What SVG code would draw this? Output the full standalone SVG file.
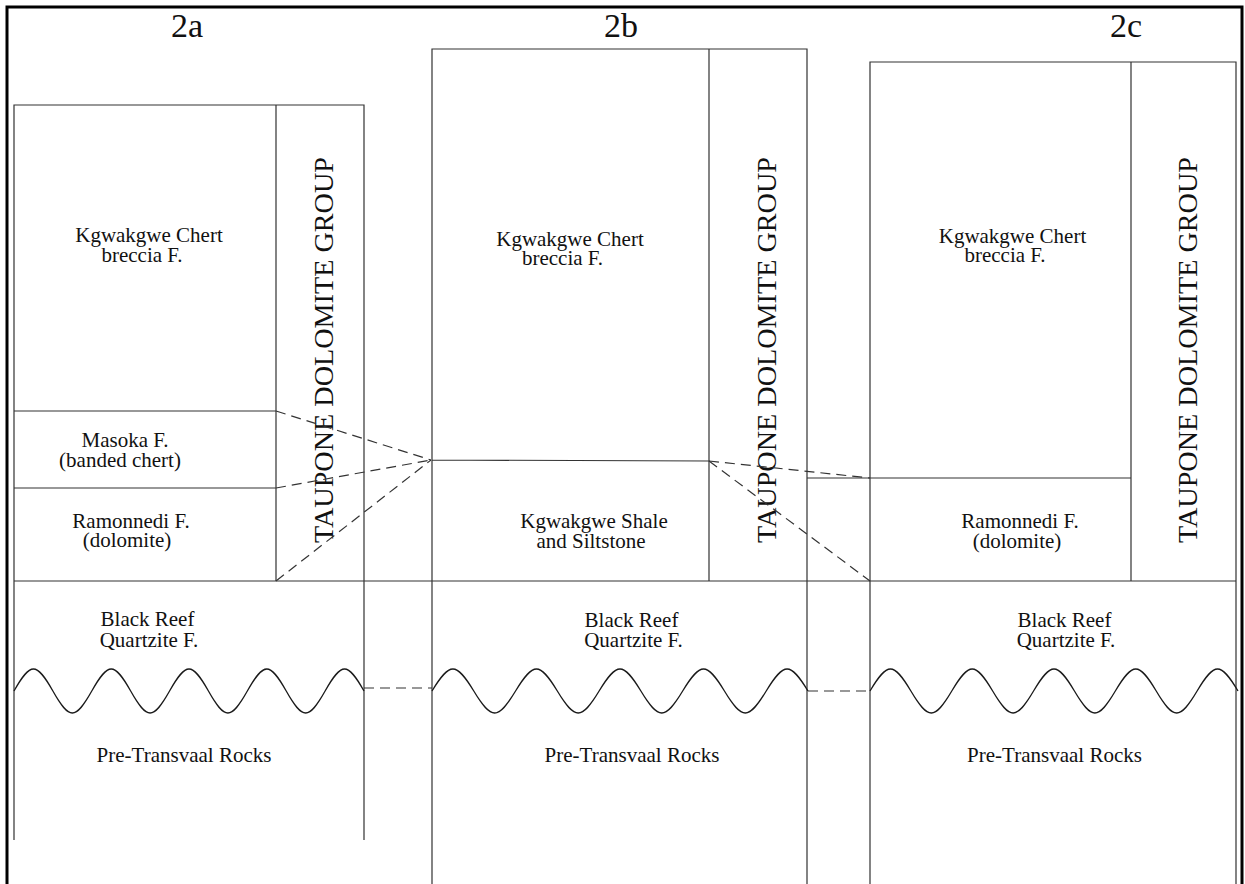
<svg xmlns="http://www.w3.org/2000/svg" width="1245" height="884" viewBox="0 0 1245 884">
<style>
.ln{stroke:#333;stroke-width:1.2;fill:none}
.dash{stroke:#333;stroke-width:1.2;fill:none;stroke-dasharray:10 6}
.wave{stroke:#1a1a1a;stroke-width:1.3;fill:none}
.lbl{font-family:"Liberation Serif","Times New Roman",serif;font-size:21px;fill:#111;text-anchor:middle}
.hd{font-family:"Liberation Serif","Times New Roman",serif;font-size:34px;fill:#111;text-anchor:middle}
.grp{font-family:"Liberation Serif","Times New Roman",serif;font-size:28px;fill:#111}
</style>
<rect width="1245" height="884" fill="#fff"/>
<path d="M7,890 V7 H1242 V890" fill="none" stroke="#000" stroke-width="3"/>
<line class="ln" x1="14" y1="581" x2="1236" y2="581"/>

<g id="col-2a">
<text class="hd" x="187" y="37">2a</text>
<path class="ln" d="M14,840 V105 H364 V840 M276,105 V581 M14,411 H276 M14,488 H276"/>
<text class="grp" transform="translate(333,543) rotate(-90)" textLength="386" lengthAdjust="spacingAndGlyphs">TAUPONE DOLOMITE GROUP</text>
<text class="lbl" x="149" y="242">Kgwakgwe Chert</text>
<text class="lbl" x="142" y="262">breccia F.</text>
<text class="lbl" x="125" y="447">Masoka F.</text>
<text class="lbl" x="120" y="467">(banded chert)</text>
<text class="lbl" x="131" y="528">Ramonnedi F.</text>
<text class="lbl" x="127" y="547">(dolomite)</text>
<text class="lbl" x="147.5" y="626">Black Reef</text>
<text class="lbl" x="149" y="647">Quartzite F.</text>
<path class="wave" d="M14,691 C30.5,661.67 36.38,661.67 52.89,691 C69.39,720.33 75.27,720.33 91.78,691 C108.28,661.67 114.16,661.67 130.67,691 C147.17,720.33 153.05,720.33 169.56,691 C186.06,661.67 191.94,661.67 208.44,691 C224.95,720.33 230.83,720.33 247.33,691 C263.84,661.67 269.72,661.67 286.22,691 C302.73,720.33 308.61,720.33 325.11,691 C341.62,661.67 347.49,661.67 364,691"/>
<text class="lbl" x="184" y="762">Pre-Transvaal Rocks</text>
</g>

<g id="col-2b">
<text class="hd" x="621" y="37">2b</text>
<path class="ln" d="M432,890 V49 H807 V890 M709,49 V581 M432,460 L709,461"/>
<text class="grp" transform="translate(776,543) rotate(-90)" textLength="386" lengthAdjust="spacingAndGlyphs">TAUPONE DOLOMITE GROUP</text>
<text class="lbl" x="570" y="246">Kgwakgwe Chert</text>
<text class="lbl" x="562.5" y="265">breccia F.</text>
<text class="lbl" x="594" y="528">Kgwakgwe Shale</text>
<text class="lbl" x="591" y="548">and Siltstone</text>
<text class="lbl" x="631.5" y="627">Black Reef</text>
<text class="lbl" x="633.5" y="647">Quartzite F.</text>
<path class="wave" d="M432,691 C449.73,661.67 456.05,661.67 473.78,691 C491.51,720.33 497.82,720.33 515.56,691 C533.29,661.67 539.6,661.67 557.33,691 C575.06,720.33 581.38,720.33 599.11,691 C616.84,661.67 623.16,661.67 640.89,691 C658.62,720.33 664.94,720.33 682.67,691 C700.4,661.67 706.71,661.67 724.44,691 C742.17,720.33 748.49,720.33 766.22,691 C783.95,661.67 790.27,661.67 808,691"/>
<text class="lbl" x="632" y="762">Pre-Transvaal Rocks</text>
</g>

<g id="col-2c">
<text class="hd" x="1126" y="37">2c</text>
<path class="ln" d="M870,890 V62 H1236 V890 M1131,62 V581 M807,478 H1131"/>
<text class="grp" transform="translate(1197,543) rotate(-90)" textLength="386" lengthAdjust="spacingAndGlyphs">TAUPONE DOLOMITE GROUP</text>
<text class="lbl" x="1012.5" y="243">Kgwakgwe Chert</text>
<text class="lbl" x="1005" y="262">breccia F.</text>
<text class="lbl" x="1020" y="528">Ramonnedi F.</text>
<text class="lbl" x="1017" y="548">(dolomite)</text>
<text class="lbl" x="1064.5" y="627">Black Reef</text>
<text class="lbl" x="1066" y="647">Quartzite F.</text>
<path class="wave" d="M870,691 C887.35,661.67 893.54,661.67 910.89,691 C928.24,720.33 934.42,720.33 951.78,691 C969.13,661.67 975.31,661.67 992.67,691 C1010.02,720.33 1016.2,720.33 1033.56,691 C1050.91,661.67 1057.09,661.67 1074.44,691 C1091.8,720.33 1097.98,720.33 1115.33,691 C1132.69,661.67 1138.87,661.67 1156.22,691 C1173.58,720.33 1179.76,720.33 1197.11,691 C1214.47,661.67 1220.64,661.67 1238,691"/>
<text class="lbl" x="1054.5" y="762">Pre-Transvaal Rocks</text>
</g>

<g id="connectors">
<line class="dash" x1="276" y1="411" x2="431" y2="460"/>
<line class="dash" x1="276" y1="488" x2="431" y2="460"/>
<line class="dash" x1="276" y1="581" x2="431" y2="460"/>
<line class="dash" x1="709" y1="461" x2="870" y2="478"/>
<line class="dash" x1="709" y1="461" x2="870" y2="581"/>
<line class="dash" x1="364" y1="688" x2="432" y2="688"/>
<line class="dash" x1="808" y1="691" x2="870" y2="691"/>
</g>
</svg>
